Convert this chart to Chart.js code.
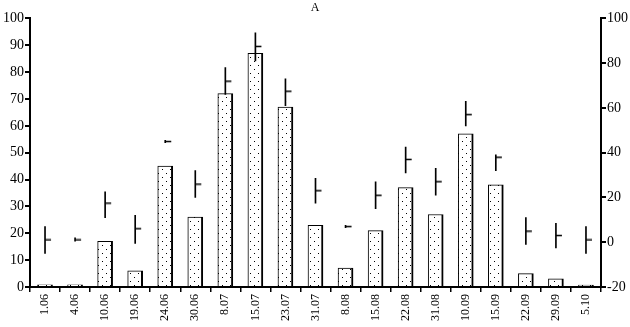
<!DOCTYPE html>
<html>
<head>
<meta charset="utf-8">
<script src="https://cdn.jsdelivr.net/npm/chart.js@4/dist/chart.umd.min.js"></script>
<style>
  html, body { margin: 0; padding: 0; background: #fff; }
</style>
</head>
<body>
<canvas id="chartA" width="630" height="327"></canvas>
<script>
const dates = ['1.06', '4.06', '10.06', '19.06', '24.06', '30.06', '8.07', '15.07', '23.07', '31.07',
               '8.08', '15.08', '22.08', '31.08', '10.09', '15.09', '22.09', '29.09', '5.10'];
// left axis (bars)
const barValues = [0.8, 0.8, 17, 6, 45, 26, 72, 87, 67, 23, 7, 21, 37, 27, 57, 38, 5, 3, 0.7];
// right axis (mean with min-max range)
const meanValues = [1, 1, 17.5, 6, 45, 26, 72, 87.5, 67.5, 23, 7, 21, 37, 27, 57, 38, 5, 3, 1];
const lowValues  = [-5, 0.5, 11, -0.5, 44.5, 20, 66, 81, 61, 17.5, 6.5, 15, 31, 21, 52, 32, -1, -2.5, -5];
const highValues = [7, 2, 22.5, 12, 45.5, 32, 78, 93.5, 73, 28.5, 7.5, 27, 42.5, 33, 63, 39, 11, 8.5, 7];
const leftTicks = [0, 10, 20, 30, 40, 50, 60, 70, 80, 90, 100];
const rightTicks = [-20, 0, 20, 40, 60, 80, 100];

// sparse dotted fill for the bars
function dotPattern() {
    const c = document.createElement('canvas');
    c.width = 8; c.height = 8;
    const g = c.getContext('2d');
    g.fillStyle = '#fff';
    g.fillRect(0, 0, 8, 8);
    g.fillStyle = '#000';
    g.fillRect(2, 1, 1, 1);
    g.fillRect(6, 5, 1, 1);
    return g.createPattern(c, 'repeat');
}

// small tick to the right of the range line
function meanTick() {
    const c = document.createElement('canvas');
    c.width = 16; c.height = 3;
    const g = c.getContext('2d');
    g.strokeStyle = '#000';
    g.lineWidth = 1.5;
    g.beginPath();
    g.moveTo(8, 1.5);
    g.lineTo(14, 1.5);
    g.stroke();
    return c;
}

const serif = 'Liberation Serif';
const ctx = document.getElementById('chartA').getContext('2d');

new Chart(ctx, {
    type: 'bar',
    data: {
        labels: dates,
        datasets: [
            {
                type: 'line',
                data: meanValues,
                yAxisID: 'y2',
                showLine: false,
                pointStyle: meanTick(),
                pointRadius: 3,
                order: 1
            },
            {
                data: dates.map((d, i) => [lowValues[i], highValues[i]]),
                yAxisID: 'y2',
                grouped: false,
                barThickness: 1,
                backgroundColor: '#000',
                borderWidth: 0,
                order: 2
            },
            {
                data: barValues,
                yAxisID: 'y',
                grouped: false,
                barThickness: 15,
                backgroundColor: dotPattern(),
                borderColor: '#000',
                borderWidth: { top: 1, left: 1, right: 2, bottom: 0 },
                borderSkipped: false,
                order: 3
            }
        ]
    },
    options: {
        responsive: false,
        animation: false,
        layout: { padding: { left: 0, right: 0, top: 0, bottom: 0 } },
        plugins: {
            legend: { display: false },
            tooltip: { enabled: false },
            title: {
                display: true,
                text: 'A',
                color: '#000',
                font: { family: serif, size: 12, weight: 'normal' },
                padding: { top: 1, bottom: 3 }
            }
        },
        scales: {
            x: {
                offset: true,
                grid: { drawOnChartArea: false, offset: true, color: '#000', tickLength: 5, lineWidth: 1.5 },
                border: { color: '#000', width: 2 },
                ticks: {
                    color: '#000',
                    font: { family: serif, size: 12 },
                    maxRotation: 90,
                    minRotation: 90,
                    padding: 2
                },
                afterFit: function(scale) { scale.height = 40; }
            },
            y: {
                position: 'left',
                min: 0,
                max: 100,
                afterBuildTicks: function(scale) { scale.ticks = leftTicks.map(v => ({ value: v })); },
                grid: { drawOnChartArea: false, color: '#000', tickLength: 5, lineWidth: 2 },
                border: { color: '#000', width: 2 },
                ticks: { color: '#000', font: { family: serif, size: 14 }, padding: 1 },
                afterFit: function(scale) { scale.width = 30; }
            },
            y2: {
                position: 'right',
                min: -20,
                max: 100,
                afterBuildTicks: function(scale) { scale.ticks = rightTicks.map(v => ({ value: v })); },
                grid: { drawOnChartArea: false, color: '#000', tickLength: 5, lineWidth: 2 },
                border: { color: '#000', width: 2 },
                ticks: { color: '#000', font: { family: serif, size: 14 }, padding: 1 },
                afterFit: function(scale) { scale.width = 29; }
            }
        }
    }
});
</script>
</body>
</html>
